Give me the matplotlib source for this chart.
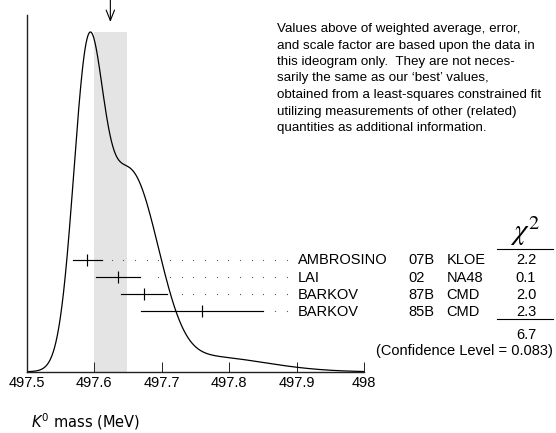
import numpy as np
import matplotlib
matplotlib.use('Agg')
from matplotlib import pyplot as plt
from matplotlib.lines import Line2D

# Measurements as drawn in the ideogram (MeV)
authors = ['AMBROSINO', 'LAI', 'BARKOV', 'BARKOV']
years = ['07B', '02', '87B', '85B']
experiments = ['KLOE', 'NA48', 'CMD', 'CMD']
mass = np.array([497.590, 497.635, 497.674, 497.760])
error = np.array([0.0215, 0.033, 0.0345, 0.091])
chi2 = ['2.2', '0.1', '2.0', '2.3']
chi2_total = '6.7'
confidence_level = '0.083'
avg_mass = 497.624
avg_error = 0.024
xticks = [497.5, 497.6, 497.7, 497.8, 497.9, 498.0]
xtick_labels = ['497.5', '497.6', '497.7', '497.8', '497.9', '498']

note = ("Values above of weighted average, error,\n"
        "and scale factor are based upon the data in\n"
        "this ideogram only.  They are not neces-\n"
        "sarily the same as our \u2018best\u2019 values,\n"
        "obtained from a least-squares constrained fit\n"
        "utilizing measurements of other (related)\n"
        "quantities as additional information.")

plt.rcParams['font.family'] = ['Liberation Sans', 'DejaVu Sans']

W, H = 556, 433


def fx(px):
    return px / W


def fy(py):
    return 1 - py / H


fig = plt.figure(figsize=(W / 100, H / 100), dpi=100)
ax = fig.add_axes([fx(26.7), fy(372), fx(364) - fx(26.7), fy(15) - fy(372)])

# ideogram: one gaussian per measurement, area proportional to 1/error
x = np.linspace(497.5, 498.0, 1200)
ideo = np.zeros_like(x)
for m, e in zip(mass, error):
    ideo += np.exp(-0.5 * ((x - m) / e) ** 2) / e ** 2
peak = ideo.max()

ax.fill_between([avg_mass - avg_error, avg_mass + avg_error], 0, peak,
                color='#e4e4e4', lw=0)
ax.plot(x, ideo, color='k', lw=0.9)

ax.set_xlim(497.5, 498.0)
ax.set_ylim(0, peak * 357 / 340)

# error bars with dotted leaders to the labels
trans = ax.get_xaxis_transform()
row_px = [259.5, 276.8, 294.0, 311.3]
grid = np.arange(497.6086, 497.888, 0.0173)
for i, (m, e) in enumerate(zip(mass, error)):
    yr = (372 - row_px[i]) / 357
    ax.plot([m - e, m + e], [yr, yr], color='k', lw=0.85, transform=trans)
    ax.plot([m], [yr], marker='|', ms=8.5, mew=0.85, color='k', transform=trans)
    dots = grid[grid > m + e + 0.012]
    ax.plot(dots, np.full(len(dots), yr), ls='none', marker='o', ms=0.9,
            color='0.35', mew=0, transform=trans)

    base = fy(row_px[i] + 5)
    fig.text(fx(298), base, authors[i], fontsize=10.5, va='baseline')
    fig.text(fx(408.3), base, years[i], fontsize=10.5, va='baseline')
    fig.text(fx(446.7), base, experiments[i], fontsize=10.5, va='baseline')
    fig.text(fx(526), base, chi2[i], fontsize=10.5, va='baseline', ha='center')

fig.text(fx(525), fy(231), r'$\chi^2$', fontsize=21, ha='center', va='center',
         math_fontfamily='stix')
fig.add_artist(Line2D([fx(497.3), fx(553.3)], [fy(249.3)] * 2, lw=0.8, color='k'))
fig.add_artist(Line2D([fx(497.3), fx(553.3)], [fy(319)] * 2, lw=0.8, color='k'))
fig.text(fx(526), fy(339), chi2_total, fontsize=10.5, va='baseline', ha='center')
fig.text(fx(553), fy(354.7), '(Confidence Level = %s)' % confidence_level,
         fontsize=10.5, va='baseline', ha='right')

fig.text(fx(277), fy(23), note, fontsize=9.6, va='top', linespacing=1.5)

# arrow marking the weighted average
ax.annotate('', xy=(avg_mass, (372 - 22) / 357), xytext=(avg_mass, 372 / 357),
            xycoords=trans, textcoords=trans,
            arrowprops=dict(arrowstyle='->,head_length=0.75,head_width=0.3',
                            lw=0.8, color='k', shrinkA=0, shrinkB=0))

for side in ['top', 'right']:
    ax.spines[side].set_visible(False)
for side in ['left', 'bottom']:
    ax.spines[side].set_linewidth(1.0)
    ax.spines[side].set_color('#222222')
ax.set_yticks([])
ax.set_xticks(xticks)
ax.set_xticklabels(xtick_labels, fontsize=10.5)
ax.tick_params(axis='x', direction='in', length=7.2, width=0.7, pad=3,
               color='#222222')

fig.text(fx(31), fy(427), r'$K^0$ mass (MeV)', fontsize=10.5, va='baseline',
         family='DejaVu Sans')

fig.savefig('out.png', dpi=100)
